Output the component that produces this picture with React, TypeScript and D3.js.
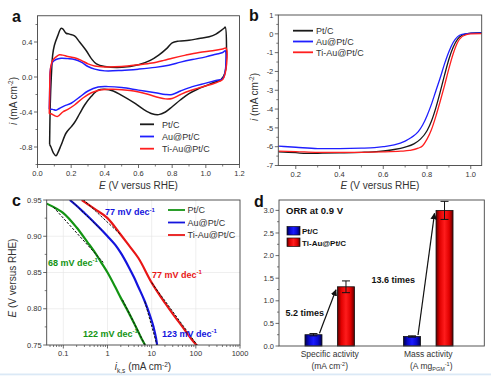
import React from 'react';
import * as d3 from 'd3';

const FONT = "'Liberation Sans', Arial, Helvetica, sans-serif";
const AX = '#444';
const TXT = '#333';

// ---------- Panel a: CV ----------
const cvPtC_E = [0.072, 0.076, 0.082, 0.09, 0.1, 0.12, 0.14, 0.15, 0.17, 0.19, 0.22, 0.25, 0.29, 0.32, 0.35, 0.4, 0.5, 0.6, 0.67, 0.72, 0.77, 0.8, 0.84, 0.9, 0.96, 1.02, 1.06, 1.09, 1.11, 1.115, 1.114, 1.09, 1.05, 1.0, 0.95, 0.9, 0.85, 0.8, 0.76, 0.72, 0.68, 0.63, 0.57, 0.5, 0.45, 0.4, 0.36, 0.32, 0.28, 0.25, 0.22, 0.2, 0.17, 0.14, 0.12, 0.11, 0.095, 0.08, 0.072];
const cvPtC_I = [-0.77, -0.3, 0.0, 0.25, 0.36, 0.47, 0.555, 0.55, 0.5, 0.49, 0.47, 0.4, 0.3, 0.21, 0.15, 0.12, 0.11, 0.14, 0.19, 0.25, 0.33, 0.39, 0.41, 0.42, 0.44, 0.46, 0.49, 0.53, 0.56, 0.57, 0.05, -0.03, -0.06, -0.1, -0.14, -0.19, -0.26, -0.34, -0.4, -0.43, -0.42, -0.37, -0.29, -0.21, -0.16, -0.14, -0.15, -0.22, -0.32, -0.42, -0.52, -0.57, -0.64, -0.78, -0.87, -0.9, -0.87, -0.8, -0.77];

const cvAu_E = [0.07, 0.072, 0.075, 0.08, 0.09, 0.11, 0.14, 0.18, 0.22, 0.26, 0.3, 0.34, 0.4, 0.5, 0.6, 0.7, 0.78, 0.85, 0.92, 1.0, 1.06, 1.1, 1.115, 1.114, 1.1, 1.06, 1.0, 0.92, 0.85, 0.8, 0.76, 0.7, 0.6, 0.5, 0.42, 0.36, 0.3, 0.25, 0.2, 0.16, 0.13, 0.11, 0.09, 0.07];
const cvAu_I = [-0.37, -0.2, 0.05, 0.12, 0.17, 0.2, 0.215, 0.21, 0.2, 0.17, 0.12, 0.09, 0.07, 0.075, 0.09, 0.11, 0.135, 0.17, 0.2, 0.23, 0.26, 0.28, 0.3, 0.05, -0.02, -0.04, -0.07, -0.11, -0.16, -0.2, -0.2, -0.18, -0.15, -0.12, -0.11, -0.115, -0.16, -0.23, -0.3, -0.33, -0.36, -0.38, -0.37, -0.37];

const cvTi_E = [0.07, 0.072, 0.075, 0.08, 0.09, 0.11, 0.13, 0.15, 0.18, 0.22, 0.26, 0.3, 0.34, 0.4, 0.5, 0.6, 0.68, 0.75, 0.8, 0.88, 0.96, 1.04, 1.1, 1.12, 1.119, 1.1, 1.08, 1.04, 1.0, 0.95, 0.9, 0.85, 0.8, 0.76, 0.72, 0.65, 0.55, 0.45, 0.38, 0.32, 0.27, 0.22, 0.18, 0.15, 0.12, 0.1, 0.08, 0.07];
const cvTi_I = [-0.42, -0.2, 0.05, 0.13, 0.19, 0.23, 0.255, 0.25, 0.235, 0.22, 0.19, 0.15, 0.125, 0.115, 0.12, 0.14, 0.16, 0.19, 0.215, 0.25, 0.28, 0.3, 0.32, 0.33, 0.08, -0.03, -0.05, -0.08, -0.1, -0.13, -0.16, -0.2, -0.245, -0.25, -0.235, -0.195, -0.155, -0.14, -0.145, -0.18, -0.24, -0.32, -0.37, -0.4, -0.45, -0.44, -0.42, -0.42];

const aXTicks = [0.0, 0.2, 0.4, 0.6, 0.8, 1.0, 1.2];
const aYTicks = [-0.8, -0.4, 0.0, 0.4];

// ---------- Panel b: LSV ----------
const lsvPtC_E = [0.12, 0.2, 0.25, 0.3, 0.4, 0.5, 0.58, 0.65, 0.7, 0.74, 0.77, 0.8, 0.82, 0.84, 0.86, 0.88, 0.9, 0.92, 0.94, 0.96, 0.98, 1.0, 1.05];
const lsvPtC_I = [-6.28, -6.32, -6.36, -6.35, -6.33, -6.3, -6.25, -6.15, -6.02, -5.85, -5.6, -5.15, -4.65, -3.95, -3.1, -2.2, -1.35, -0.7, -0.28, -0.08, 0.0, 0.04, 0.06];
const lsvAu_E = [0.12, 0.2, 0.3, 0.4, 0.5, 0.56, 0.6, 0.65, 0.7, 0.73, 0.76, 0.78, 0.8, 0.82, 0.84, 0.86, 0.88, 0.9, 0.92, 0.94, 0.96, 1.0, 1.05];
const lsvAu_I = [-5.97, -6.03, -6.1, -6.1, -6.08, -6.05, -6.0, -5.9, -5.7, -5.5, -5.2, -4.85, -4.35, -3.75, -3.05, -2.35, -1.6, -0.95, -0.45, -0.15, -0.03, 0.03, 0.05];
const lsvTi_E = [0.12, 0.2, 0.3, 0.4, 0.5, 0.6, 0.68, 0.72, 0.76, 0.78, 0.8, 0.82, 0.84, 0.86, 0.88, 0.9, 0.92, 0.94, 0.96, 0.98, 1.0, 1.05];
const lsvTi_I = [-6.24, -6.26, -6.3, -6.3, -6.3, -6.28, -6.24, -6.2, -6.08, -5.95, -5.6, -5.1, -4.4, -3.6, -2.75, -1.85, -1.05, -0.45, -0.15, -0.04, 0.0, 0.01];

const bXTicks = [0.2, 0.4, 0.6, 0.8, 1.0];
const bYTicks = [-7, -6, -5, -4, -3, -2, -1, 0, 1];

// ---------- Panel c: Tafel ----------
const tafPtC_i = [0.042, 0.07, 0.1, 0.2, 0.35, 0.5, 0.7, 1, 1.5, 2, 3, 4, 5, 6, 7.1];
const tafPtC_E = [0.945, 0.938, 0.932, 0.912, 0.892, 0.879, 0.865, 0.85, 0.83, 0.815, 0.795, 0.78, 0.768, 0.758, 0.75];
const tafAu_i = [0.14, 0.2, 0.3, 0.5, 0.7, 1, 1.5, 2, 3, 4, 5, 7, 9, 11, 12.5, 13.3];
const tafAu_E = [0.95, 0.942, 0.932, 0.919, 0.91, 0.9, 0.888, 0.877, 0.858, 0.843, 0.83, 0.81, 0.792, 0.775, 0.76, 0.75];
const tafTi_i = [0.26, 0.5, 1, 2, 3, 5, 10, 20, 30, 50, 80, 110];
const tafTi_E = [0.95, 0.938, 0.925, 0.902, 0.888, 0.87, 0.836, 0.808, 0.793, 0.775, 0.758, 0.748];
// Tafel fit segments: [i0, E0, i1, E1]
const fitSegments = [
  [0.06, 0.94, 0.8, 0.864],
  [2.2, 0.812, 7.2, 0.749],
  [0.14, 0.951, 0.75, 0.908],
  [7, 0.81, 13.3, 0.749],
  [0.28, 0.951, 2, 0.902],
  [10, 0.836, 110, 0.749],
];
const cXTicks = [0.1, 1, 10, 100, 1000];
const cYTicks = [0.75, 0.8, 0.85, 0.9, 0.95];

// ---------- Panel d: bars ----------
const dCategories = ['Specific activity', 'Mass activity'];
const dSeries = ['Pt/C', 'Ti-Au@Pt/C'];
const dPtC = [0.25, 0.21];
const dPtCErr = [0.025, 0.015];
const dTi = [1.31, 3.0];
const dTiErr = [0.13, 0.2];
const dYTicks = [0.0, 0.5, 1.0, 1.5, 2.0, 2.5, 3.0];
const dRatios = ['5.2 times', '13.6 times'];

const C_BLACK = '#1a1a1a';
const C_BLUE = '#1f1fff';
const C_RED = '#ff1f1f';
const C_GREEN = '#139413';
const C_BLUE2 = '#1414dd';
const C_RED2 = '#e81616';

const zip = (a: number[], b: number[]) => a.map((v, k) => [v, b[k]] as [number, number]);

function Frame({ x0, x1, y0, y1 }: any) {
  return <rect x={x0} y={y0} width={x1 - x0} height={y1 - y0} fill="none" stroke={AX} strokeWidth={0.9} />;
}

function XAxis({ scale, y, major, minor, fmt, dy = 11.5 }: any) {
  return (
    <g>
      {minor.map((v: number) => (
        <line key={'m' + v} x1={scale(v)} x2={scale(v)} y1={y} y2={y + 2} stroke={AX} strokeWidth={0.7} />
      ))}
      {major.map((v: number) => (
        <g key={'M' + v}>
          <line x1={scale(v)} x2={scale(v)} y1={y} y2={y + 3.5} stroke={AX} strokeWidth={0.8} />
          <text x={scale(v)} y={y + dy} textAnchor="middle" fontSize={7.5} fill={TXT}>{fmt(v)}</text>
        </g>
      ))}
    </g>
  );
}

function YAxis({ scale, x, major, minor, fmt }: any) {
  return (
    <g>
      {minor.map((v: number) => (
        <line key={'m' + v} x1={x - 2} x2={x} y1={scale(v)} y2={scale(v)} stroke={AX} strokeWidth={0.7} />
      ))}
      {major.map((v: number) => (
        <g key={'M' + v}>
          <line x1={x - 3.5} x2={x} y1={scale(v)} y2={scale(v)} stroke={AX} strokeWidth={0.8} />
          <text x={x - 5} y={scale(v) + 2.7} textAnchor="end" fontSize={7.5} fill={TXT}>{fmt(v)}</text>
        </g>
      ))}
    </g>
  );
}

function Legend({ x, y, dy, len, gap, items, fs = 9 }: any) {
  return (
    <g>
      {items.map((it: any, k: number) => (
        <g key={k}>
          <line x1={x} x2={x + len} y1={y + k * dy} y2={y + k * dy} stroke={it.color} strokeWidth={1.8} />
          <text x={x + len + gap} y={y + k * dy + 3.2} fontSize={fs} fill={TXT}>{it.label}</text>
        </g>
      ))}
    </g>
  );
}

function Tafel({ x, y, label, color }: any) {
  return (
    <text x={x} y={y} fontSize={9} fontWeight="bold" fill={color}>
      {label} mV dec<tspan fontSize={6} dy={-3.5}>-1</tspan>
    </text>
  );
}

export default function App() {
  // Panel a scales
  const xA = d3.scaleLinear().domain([0, 1.2]).range([37.5, 239.5]);
  const yA = d3.scaleLinear().domain([-1.0, 0.7]).range([164.5, 15.75]);
  const lineA = d3.line<[number, number]>().x(d => xA(d[0])).y(d => yA(d[1])).curve(d3.curveCatmullRom.alpha(0.5));

  // Panel b
  const xB = d3.scaleLinear().domain([0.12, 1.05]).range([278.3, 481.7]);
  const yB = d3.scaleLinear().domain([-7, 1]).range([165.5, 15]);
  const lineB = d3.line<[number, number]>().x(d => xB(d[0])).y(d => yB(d[1])).curve(d3.curveMonotoneX);

  // Panel c
  const xC = d3.scaleLog().domain([0.042, 1000]).range([46.7, 240]);
  const yC = d3.scaleLinear().domain([0.75, 0.95]).range([345, 200]);
  const lineC = d3.line<[number, number]>().x(d => xC(d[0])).y(d => yC(d[1])).curve(d3.curveMonotoneX);
  const cMinor = xC.ticks().filter(v => !cXTicks.some(t => Math.abs(t - v) < 1e-9));

  // Panel d
  const yD = d3.scaleLinear().domain([0, 3.23]).range([346, 200]);
  const xD = d3.scaleBand<string>().domain(dCategories).range([276.5, 481.5]).paddingInner(0.3).paddingOuter(0.19);
  const xSub = d3.scaleBand<string>().domain(dSeries).range([0, xD.bandwidth()]).paddingInner(0.477).paddingOuter(0.3);
  const bw = xSub.bandwidth();

  const fmt1 = (v: number) => v.toFixed(1);
  const fmt2 = (v: number) => v.toFixed(2);
  const fmtInt = (v: number) => String(v);
  const fmtLog = (v: number) => (v < 1 ? String(v) : String(Math.round(v)));

  return (
    <svg width={491} height={377} style={{ position: 'absolute', left: 0, top: 0, background: '#fff' }} fontFamily={FONT}>
      <defs>
        <clipPath id="clipA"><rect x={37.5} y={15.75} width={202} height={148.75} /></clipPath>
        <clipPath id="clipB"><rect x={278.3} y={15} width={203.4} height={150.5} /></clipPath>
        <clipPath id="clipC"><rect x={46.7} y={200} width={193.3} height={145} /></clipPath>
        <linearGradient id="gBlue" x1="0" x2="1" y1="0" y2="0">
          <stop offset="0%" stopColor="#00004a" />
          <stop offset="25%" stopColor="#0a0ad0" />
          <stop offset="50%" stopColor="#1a1aff" />
          <stop offset="75%" stopColor="#0a0ad0" />
          <stop offset="100%" stopColor="#00004a" />
        </linearGradient>
        <linearGradient id="gRed" x1="0" x2="1" y1="0" y2="0">
          <stop offset="0%" stopColor="#5a0000" />
          <stop offset="22%" stopColor="#e00000" />
          <stop offset="50%" stopColor="#ff1c1c" />
          <stop offset="78%" stopColor="#e00000" />
          <stop offset="100%" stopColor="#5a0000" />
        </linearGradient>
        <marker id="arrowHead" viewBox="0 0 10 10" refX="9" refY="5" markerWidth="5.5" markerHeight="5.5" orient="auto">
          <path d="M0,0 L10,5 L0,10 z" fill="#111" />
        </marker>
      </defs>

      {/* ============ Panel a ============ */}
      <text x={12} y={22} fontSize={16} fontWeight="bold" fill="#111">a</text>
      <g clipPath="url(#clipA)" fill="none" strokeWidth={1.5} strokeLinejoin="round">
        <path d={lineA(zip(cvPtC_E, cvPtC_I)) || ''} stroke={C_BLACK} />
        <path d={lineA(zip(cvAu_E, cvAu_I)) || ''} stroke={C_BLUE} />
        <path d={lineA(zip(cvTi_E, cvTi_I)) || ''} stroke={C_RED} />
      </g>
      <Frame x0={37.5} x1={239.5} y0={15.75} y1={164.5} />
      <XAxis scale={xA} y={164.5} major={aXTicks} minor={[0.1, 0.3, 0.5, 0.7, 0.9, 1.1]} fmt={fmt1} />
      <YAxis scale={yA} x={37.5} major={aYTicks} minor={[-1.0, -0.6, -0.2, 0.2, 0.6]} fmt={fmt1} />
      <Legend x={140} y={124.3} dy={12.2} len={14} gap={8} items={[
        { label: 'Pt/C', color: C_BLACK }, { label: 'Au@Pt/C', color: C_BLUE }, { label: 'Ti-Au@Pt/C', color: C_RED }]} />
      <text x={138.5} y={189} textAnchor="middle" fontSize={10} fill={TXT}>
        <tspan fontStyle="italic">E</tspan> (V versus RHE)
      </text>
      <text transform="translate(16.5,101) rotate(-90)" textAnchor="middle" fontSize={10} fill={TXT}>
        <tspan fontStyle="italic">i</tspan> (mA cm<tspan fontSize={6.5} dy={-3.5}>-2</tspan><tspan dy={3.5}>)</tspan>
      </text>

      {/* ============ Panel b ============ */}
      <text x={249} y={21} fontSize={16} fontWeight="bold" fill="#111">b</text>
      <g clipPath="url(#clipB)" fill="none" strokeWidth={1.3} strokeLinejoin="round">
        <path d={lineB(zip(lsvPtC_E, lsvPtC_I)) || ''} stroke={C_BLACK} />
        <path d={lineB(zip(lsvAu_E, lsvAu_I)) || ''} stroke={C_BLUE} />
        <path d={lineB(zip(lsvTi_E, lsvTi_I)) || ''} stroke={C_RED} />
      </g>
      <Frame x0={278.3} x1={481.7} y0={15} y1={165.5} />
      <XAxis scale={xB} y={165.5} major={bXTicks} minor={[0.3, 0.5, 0.7, 0.9]} fmt={fmt1} />
      <YAxis scale={yB} x={278.3} major={bYTicks} minor={[-6.5, -5.5, -4.5, -3.5, -2.5, -1.5, -0.5, 0.5]} fmt={fmtInt} />
      <Legend x={293} y={30.7} dy={10.8} len={20} gap={3} items={[
        { label: 'Pt/C', color: C_BLACK }, { label: 'Au@Pt/C', color: C_BLUE }, { label: 'Ti-Au@Pt/C', color: C_RED }]} />
      <text x={380} y={189} textAnchor="middle" fontSize={10} fill={TXT}>
        <tspan fontStyle="italic">E</tspan> (V versus RHE)
      </text>
      <text transform="translate(257.5,97) rotate(-90)" textAnchor="middle" fontSize={10} fill={TXT}>
        <tspan fontStyle="italic">i</tspan> (mA cm<tspan fontSize={6.5} dy={-3.5}>-2</tspan><tspan dy={3.5}>)</tspan>
      </text>

      {/* ============ Panel c ============ */}
      <text x={12} y={206} fontSize={16} fontWeight="bold" fill="#111">c</text>
      <g stroke="#e4e4e4" strokeWidth={0.6}>
        {cXTicks.slice(0, 4).map(v => <line key={'gx' + v} x1={xC(v)} x2={xC(v)} y1={200} y2={345} />)}
        {cYTicks.slice(1, 4).map(v => <line key={'gy' + v} x1={46.7} x2={240} y1={yC(v)} y2={yC(v)} />)}
      </g>
      <g clipPath="url(#clipC)" fill="none" strokeLinejoin="round">
        <path d={lineC(zip(tafPtC_i, tafPtC_E)) || ''} stroke={C_GREEN} strokeWidth={2.2} />
        <path d={lineC(zip(tafAu_i, tafAu_E)) || ''} stroke={C_BLUE2} strokeWidth={2.2} />
        <path d={lineC(zip(tafTi_i, tafTi_E)) || ''} stroke={C_RED2} strokeWidth={2.2} />
        {fitSegments.map((s, k) => (
          <line key={k} x1={xC(s[0])} y1={yC(s[1])} x2={xC(s[2])} y2={yC(s[3])} stroke="#111" strokeWidth={1} strokeDasharray="2.5,1.5" />
        ))}
      </g>
      <Frame x0={46.7} x1={240} y0={200} y1={345} />
      <XAxis scale={xC} y={345} major={cXTicks} minor={cMinor} fmt={fmtLog} dy={11} />
      <YAxis scale={yC} x={46.7} major={cYTicks} minor={[0.775, 0.825, 0.875, 0.925]} fmt={fmt2} />
      <Legend x={168} y={210} dy={12.5} len={17} gap={2.5} items={[
        { label: 'Pt/C', color: C_GREEN }, { label: 'Au@Pt/C', color: C_BLUE2 }, { label: 'Ti-Au@Pt/C', color: C_RED2 }]} />
      <Tafel x={105} y={215} label="77" color={C_BLUE2} />
      <Tafel x={48} y={265.5} label="68" color={C_GREEN} />
      <Tafel x={152} y={277.5} label="77" color={C_RED2} />
      <Tafel x={83} y={336.5} label="122" color={C_GREEN} />
      <Tafel x={162} y={336.5} label="123" color={C_BLUE2} />
      <text x={143} y={370} textAnchor="middle" fontSize={10} fill={TXT}>
        <tspan fontStyle="italic">i</tspan><tspan fontSize={6.5} dy={2.5}>k,s</tspan><tspan dy={-2.5}> (mA cm</tspan><tspan fontSize={6.5} dy={-3.5}>-2</tspan><tspan dy={3.5}>)</tspan>
      </text>
      <text transform="translate(16,278) rotate(-90)" textAnchor="middle" fontSize={10} fill={TXT}>
        <tspan fontStyle="italic">E</tspan> (V versus RHE)
      </text>

      {/* ============ Panel d ============ */}
      <text x={254} y={207} fontSize={16} fontWeight="bold" fill="#111">d</text>
      {dCategories.map((cat, ci) => {
        const g0 = xD(cat) || 0;
        const xb = g0 + (xSub(dSeries[0]) || 0);
        const xr = g0 + (xSub(dSeries[1]) || 0);
        const yb = yD(dPtC[ci]);
        const yr = yD(dTi[ci]);
        return (
          <g key={cat}>
            <rect x={xb} y={yb} width={bw} height={yD(0) - yb} fill="url(#gBlue)" stroke="#111" strokeWidth={0.8} />
            <rect x={xr} y={yr} width={bw} height={yD(0) - yr} fill="url(#gRed)" stroke="#111" strokeWidth={0.8} />
            {[[xb, dPtC[ci], dPtCErr[ci]], [xr, dTi[ci], dTiErr[ci]]].map(([bx, v, e], k) => (
              <g key={k} stroke="#111" strokeWidth={1}>
                <line x1={bx + bw / 2} x2={bx + bw / 2} y1={yD(v + e)} y2={yD(v - e)} />
                <line x1={bx + bw / 2 - 4} x2={bx + bw / 2 + 4} y1={yD(v + e)} y2={yD(v + e)} />
                <line x1={bx + bw / 2 - 4} x2={bx + bw / 2 + 4} y1={yD(v - e)} y2={yD(v - e)} />
              </g>
            ))}
            <line x1={xb + bw / 2 + 6} y1={yb - 1.5} x2={xr - 1.5} y2={yr + 3} stroke="#111" strokeWidth={1.2} markerEnd="url(#arrowHead)" />
          </g>
        );
      })}
      <text x={324} y={315.5} textAnchor="end" fontSize={9} fontWeight="bold" fill="#111">{dRatios[0]}</text>
      <text x={415} y={282.5} textAnchor="end" fontSize={9} fontWeight="bold" fill="#111">{dRatios[1]}</text>
      <Frame x0={279} x1={484.3} y0={200} y1={346} />
      <YAxis scale={yD} x={279} major={dYTicks} minor={[0.25, 0.75, 1.25, 1.75, 2.25, 2.75]} fmt={fmt1} />
      <text x={286} y={214} fontSize={9.5} fontWeight="bold" fill="#111">ORR at 0.9 V</text>
      <rect x={287} y={226.5} width={13} height={8.5} fill="url(#gBlue)" stroke="#111" strokeWidth={0.7} />
      <rect x={287} y={238} width={13} height={8.5} fill="url(#gRed)" stroke="#111" strokeWidth={0.7} />
      <text x={302} y={234} fontSize={8} fontWeight="bold" fill="#111">{dSeries[0]}</text>
      <text x={302} y={245.5} fontSize={8} fontWeight="bold" fill="#111">{dSeries[1]}</text>
      {(() => {
        const c0 = (xD(dCategories[0]) || 0) + xD.bandwidth() / 2;
        const c1 = (xD(dCategories[1]) || 0) + xD.bandwidth() / 2;
        return (
          <g fontSize={8.5} fill={TXT} textAnchor="middle">
            <text x={c0} y={357}>{dCategories[0]}</text>
            <text x={c0} y={369}>(mA cm<tspan fontSize={5.5} dy={-3}>-2</tspan><tspan dy={3}>)</tspan></text>
            <text x={c1} y={357}>{dCategories[1]}</text>
            <text x={c1 + 3} y={369}>(A mg<tspan fontSize={5.5} dy={2}>PGM</tspan><tspan fontSize={5.5} dy={-5.5}>-1</tspan><tspan dy={3.5}>)</tspan></text>
          </g>
        );
      })()}

      {/* bottom pale strip */}
      <rect x={0} y={373.5} width={491} height={1.8} fill="#dbe9f6" />
    </svg>
  );
}
